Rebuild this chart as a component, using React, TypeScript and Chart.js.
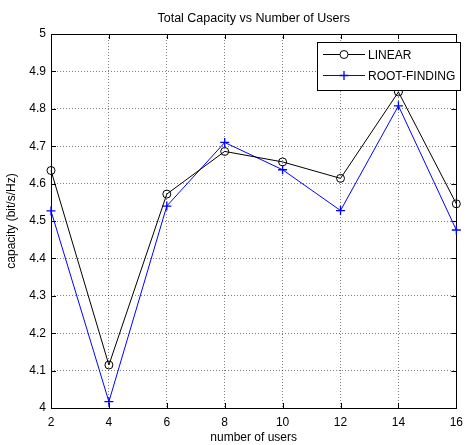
import React, { useEffect, useRef } from "react";
import { Chart, registerables } from "chart.js";

Chart.register(...registerables);

const users = [2, 4, 6, 8, 10, 12, 14, 16];
const linearCapacity = [4.635, 4.115, 4.572, 4.686, 4.658, 4.614, 4.845, 4.546];
const rootFindingCapacity = [4.527, 4.017, 4.54, 4.71, 4.637, 4.528, 4.808, 4.476];
const seriesLabels = ["LINEAR", "ROOT-FINDING"];
const titleText = "Total Capacity vs Number of Users";
const xTitle = "number of users";
const yTitle = "capacity (bit/s/Hz)";

const FONT = "'Liberation Sans', Arial, sans-serif";

const framePlugin = {
  id: "matlabFrame",
  beforeDatasetsDraw(chart: any) {
    const { ctx, chartArea: a, scales } = chart;
    ctx.save();
    ctx.strokeStyle = "#000";
    ctx.lineWidth = 1;
    ctx.setLineDash([]);
    ctx.strokeRect(Math.round(a.left) + 0.5, Math.round(a.top) + 0.5, Math.round(a.right - a.left), Math.round(a.bottom - a.top));
    const tl = 5;
    ctx.beginPath();
    scales.x.ticks.forEach((t: any) => {
      const px = Math.round(scales.x.getPixelForValue(t.value)) + 0.5;
      ctx.moveTo(px, a.bottom);
      ctx.lineTo(px, a.bottom - tl);
      ctx.moveTo(px, a.top);
      ctx.lineTo(px, a.top + tl);
    });
    scales.y.ticks.forEach((t: any) => {
      const py = Math.round(scales.y.getPixelForValue(t.value)) + 0.5;
      ctx.moveTo(a.left, py);
      ctx.lineTo(a.left + tl, py);
      ctx.moveTo(a.right, py);
      ctx.lineTo(a.right - tl, py);
    });
    ctx.stroke();
    ctx.restore();
  },
  afterDatasetsDraw(chart: any) {
    const { ctx, chartArea: a } = chart;
    ctx.save();
    ctx.strokeStyle = "#000";
    ctx.lineWidth = 1;
    ctx.setLineDash([]);
    // legend
    const lx = 317.5, ly = 42.5, lw = 143, lh = 48;
    ctx.fillStyle = "#fff";
    ctx.fillRect(lx, ly, lw, lh);
    ctx.strokeRect(lx, ly, lw, lh);
    ctx.font = `12px ${FONT}`;
    ctx.textBaseline = "middle";
    ctx.textAlign = "left";
    const rows = [54.5, 75.5];
    chart.data.datasets.forEach((ds: any, i: number) => {
      const y = rows[i];
      ctx.strokeStyle = ds.borderColor;
      ctx.lineWidth = 1;
      ctx.beginPath();
      ctx.moveTo(323, y);
      ctx.lineTo(365, y);
      ctx.stroke();
      if (ds.pointStyle === "circle") {
        ctx.fillStyle = "#fff";
        ctx.beginPath();
        ctx.arc(344, y, ds.pointRadius, 0, Math.PI * 2);
        ctx.fill();
        ctx.stroke();
      } else {
        ctx.lineWidth = ds.pointBorderWidth;
        ctx.beginPath();
        ctx.moveTo(344 - ds.pointRadius, y);
        ctx.lineTo(344 + ds.pointRadius, y);
        ctx.moveTo(344, y - ds.pointRadius);
        ctx.lineTo(344, y + ds.pointRadius);
        ctx.stroke();
      }
      ctx.fillStyle = "#000";
      ctx.fillText(ds.label, 368, y + 1);
    });

    // titles
    ctx.fillStyle = "#000";
    ctx.textAlign = "center";
    ctx.textBaseline = "middle";
    ctx.font = `12.5px ${FONT}`;
    const cx = (a.left + a.right) / 2;
    ctx.fillText(titleText, cx, 19);
    ctx.font = `12px ${FONT}`;
    ctx.fillText(xTitle, cx, 438);
    ctx.translate(12, (a.top + a.bottom) / 2);
    ctx.rotate(-Math.PI / 2);
    ctx.fillText(yTitle, 0, 0);
    ctx.restore();
  },
};

export default function App() {
  const ref = useRef<HTMLCanvasElement>(null);
  useEffect(() => {
    if (!ref.current) return;
    const chart = new Chart(ref.current, {
      type: "line",
      data: {
        datasets: [
          {
            label: seriesLabels[0],
            data: users.map((u, i) => ({ x: u, y: linearCapacity[i] })),
            borderColor: "#000000",
            backgroundColor: "rgba(0,0,0,0)",
            borderWidth: 1,
            pointStyle: "circle",
            pointRadius: 4,
            pointBorderWidth: 1,
            pointBackgroundColor: "rgba(0,0,0,0)",
            pointBorderColor: "#000",
            tension: 0,
            clip: false,
          },
          {
            label: seriesLabels[1],
            data: users.map((u, i) => ({ x: u, y: rootFindingCapacity[i] })),
            borderColor: "#0000ff",
            backgroundColor: "rgba(0,0,0,0)",
            borderWidth: 1,
            pointStyle: "cross",
            pointRadius: 4.5,
            pointBorderWidth: 1.3,
            pointBorderColor: "#0000ff",
            tension: 0,
            clip: false,
          },
        ],
      },
      options: {
        responsive: false,
        animation: false,
        layout: { padding: { top: 34, right: 4, left: 0, bottom: 0 } },
        plugins: { legend: { display: false }, title: { display: false }, tooltip: { enabled: false } },
        scales: {
          x: {
            type: "linear",
            min: 2,
            max: 16,
            afterFit: (s: any) => { s.height = 37; },
            ticks: { stepSize: 2, padding: 7, color: "#000", font: { family: FONT, size: 12 }, maxRotation: 0 },
            grid: { color: "rgba(0,0,0,0.5)", drawTicks: false, lineWidth: 1 },
            border: { display: false, dash: [1, 2] },
          },
          y: {
            type: "linear",
            min: 4,
            max: 5,
            afterFit: (s: any) => { s.width = 51; },
            ticks: {
              stepSize: 0.1,
              padding: 5,
              color: "#000",
              font: { family: FONT, size: 12 },
              callback: (v: any) => (Math.round(v * 10) / 10).toString(),
            },
            grid: { color: "rgba(0,0,0,0.5)", drawTicks: false, lineWidth: 1 },
            border: { display: false, dash: [1, 2] },
          },
        },
      },
      plugins: [framePlugin],
    });
    return () => chart.destroy();
  }, []);
  return (
    <div style={{ position: "absolute", left: 0, top: 0, width: 470, height: 445, background: "#fff" }}>
      <canvas ref={ref} width={470} height={445} />
    </div>
  );
}
